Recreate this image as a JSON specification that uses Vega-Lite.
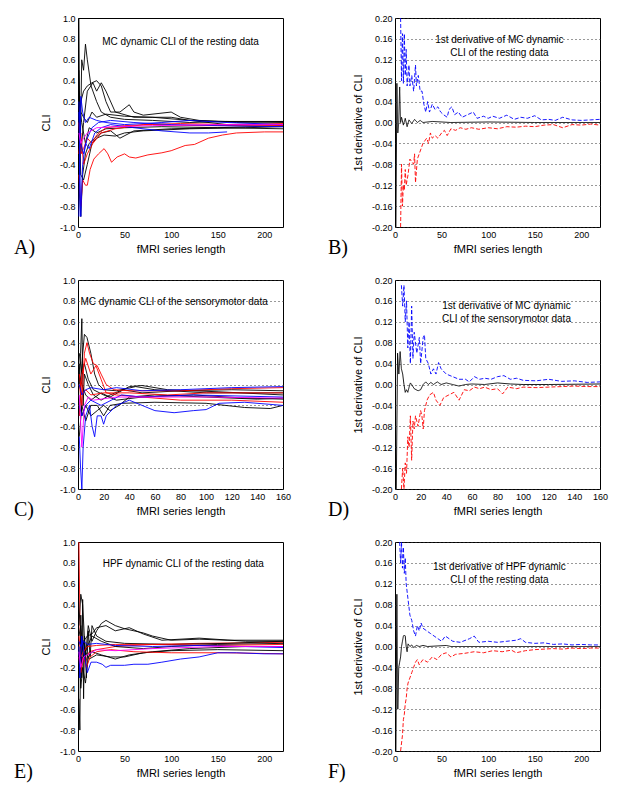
{
"$schema":"https://vega.github.io/schema/vega-lite/v6.json",
"background":"white",
"padding":{"left":13,"top":13,"right":5,"bottom":5},
"columns":2,
"spacing":{"row":53,"column":112},
"bounds":"flush",
"datasets":{
"a":[
{"s":1,"c":"k","x":1,"y":1},{"s":1,"c":"k","x":2,"y":-0.5},{"s":1,"c":"k","x":4,"y":0.6},{"s":1,"c":"k","x":6,"y":0.5},{"s":1,"c":"k","x":8,"y":0.75},{"s":1,"c":"k","x":10,"y":0.6},{"s":1,"c":"k","x":14,"y":0.35},{"s":1,"c":"k","x":20,"y":0.2},{"s":1,"c":"k","x":25,"y":0.1},{"s":1,"c":"k","x":35,"y":0.05},{"s":1,"c":"k","x":50,"y":0.03},{"s":1,"c":"k","x":80,"y":0.02},{"s":1,"c":"k","x":120,"y":0},{"s":1,"c":"k","x":160,"y":0.01},{"s":1,"c":"k","x":220,"y":0},
{"s":2,"c":"k","x":1,"y":-0.2},{"s":2,"c":"k","x":3,"y":0.2},{"s":2,"c":"k","x":6,"y":0.3},{"s":2,"c":"k","x":10,"y":0.35},{"s":2,"c":"k","x":15,"y":0.38},{"s":2,"c":"k","x":20,"y":0.4},{"s":2,"c":"k","x":25,"y":0.35},{"s":2,"c":"k","x":30,"y":0.2},{"s":2,"c":"k","x":35,"y":0.1},{"s":2,"c":"k","x":45,"y":0.1},{"s":2,"c":"k","x":55,"y":0.17},{"s":2,"c":"k","x":60,"y":0.1},{"s":2,"c":"k","x":70,"y":0.07},{"s":2,"c":"k","x":100,"y":0.1},{"s":2,"c":"k","x":110,"y":0.05},{"s":2,"c":"k","x":130,"y":0.02},{"s":2,"c":"k","x":170,"y":0},{"s":2,"c":"k","x":220,"y":0.01},
{"s":3,"c":"k","x":1,"y":0.5},{"s":3,"c":"k","x":3,"y":-0.3},{"s":3,"c":"k","x":6,"y":0},{"s":3,"c":"k","x":10,"y":0.3},{"s":3,"c":"k","x":16,"y":0.38},{"s":3,"c":"k","x":20,"y":0.3},{"s":3,"c":"k","x":25,"y":0.38},{"s":3,"c":"k","x":30,"y":0.3},{"s":3,"c":"k","x":40,"y":0.1},{"s":3,"c":"k","x":60,"y":0.05},{"s":3,"c":"k","x":100,"y":0.05},{"s":3,"c":"k","x":120,"y":0.02},{"s":3,"c":"k","x":160,"y":-0.02},{"s":3,"c":"k","x":220,"y":-0.02},
{"s":4,"c":"k","x":1,"y":-0.6},{"s":4,"c":"k","x":3,"y":-0.9},{"s":4,"c":"k","x":5,"y":-0.5},{"s":4,"c":"k","x":8,"y":-0.3},{"s":4,"c":"k","x":12,"y":-0.2},{"s":4,"c":"k","x":18,"y":-0.15},{"s":4,"c":"k","x":25,"y":-0.1},{"s":4,"c":"k","x":35,"y":-0.08},{"s":4,"c":"k","x":45,"y":-0.15},{"s":4,"c":"k","x":60,"y":-0.08},{"s":4,"c":"k","x":100,"y":-0.06},{"s":4,"c":"k","x":150,"y":-0.05},{"s":4,"c":"k","x":220,"y":-0.03},
{"s":5,"c":"k","x":1,"y":0},{"s":5,"c":"k","x":3,"y":-0.5},{"s":5,"c":"k","x":6,"y":-0.55},{"s":5,"c":"k","x":10,"y":-0.4},{"s":5,"c":"k","x":15,"y":-0.2},{"s":5,"c":"k","x":20,"y":-0.15},{"s":5,"c":"k","x":28,"y":-0.12},{"s":5,"c":"k","x":40,"y":-0.13},{"s":5,"c":"k","x":50,"y":-0.1},{"s":5,"c":"k","x":70,"y":-0.08},{"s":5,"c":"k","x":120,"y":-0.06},{"s":5,"c":"k","x":180,"y":-0.05},{"s":5,"c":"k","x":220,"y":-0.04},
{"s":6,"c":"k","x":1,"y":0.3},{"s":6,"c":"k","x":3,"y":0.1},{"s":6,"c":"k","x":6,"y":0.05},{"s":6,"c":"k","x":10,"y":0},{"s":6,"c":"k","x":15,"y":0.1},{"s":6,"c":"k","x":20,"y":0.05},{"s":6,"c":"k","x":30,"y":0.08},{"s":6,"c":"k","x":50,"y":0.06},{"s":6,"c":"k","x":80,"y":0.05},{"s":6,"c":"k","x":120,"y":0.02},{"s":6,"c":"k","x":160,"y":0.01},{"s":6,"c":"k","x":220,"y":0.01},
{"s":7,"c":"k","x":1,"y":0.2},{"s":7,"c":"k","x":4,"y":0},{"s":7,"c":"k","x":8,"y":-0.2},{"s":7,"c":"k","x":12,"y":-0.05},{"s":7,"c":"k","x":20,"y":-0.1},{"s":7,"c":"k","x":30,"y":-0.06},{"s":7,"c":"k","x":50,"y":-0.05},{"s":7,"c":"k","x":90,"y":-0.04},{"s":7,"c":"k","x":150,"y":-0.05},{"s":7,"c":"k","x":220,"y":-0.06},
{"s":8,"c":"r","x":1,"y":-0.5},{"s":8,"c":"r","x":3,"y":-0.8},{"s":8,"c":"r","x":5,"y":-0.55},{"s":8,"c":"r","x":8,"y":-0.6},{"s":8,"c":"r","x":10,"y":-0.6},{"s":8,"c":"r","x":13,"y":-0.45},{"s":8,"c":"r","x":17,"y":-0.35},{"s":8,"c":"r","x":22,"y":-0.3},{"s":8,"c":"r","x":28,"y":-0.25},{"s":8,"c":"r","x":32,"y":-0.3},{"s":8,"c":"r","x":36,"y":-0.38},{"s":8,"c":"r","x":42,"y":-0.33},{"s":8,"c":"r","x":50,"y":-0.3},{"s":8,"c":"r","x":55,"y":-0.33},{"s":8,"c":"r","x":62,"y":-0.34},{"s":8,"c":"r","x":75,"y":-0.31},{"s":8,"c":"r","x":90,"y":-0.29},{"s":8,"c":"r","x":100,"y":-0.27},{"s":8,"c":"r","x":115,"y":-0.22},{"s":8,"c":"r","x":125,"y":-0.21},{"s":8,"c":"r","x":140,"y":-0.15},{"s":8,"c":"r","x":155,"y":-0.12},{"s":8,"c":"r","x":170,"y":-0.1},{"s":8,"c":"r","x":200,"y":-0.09},{"s":8,"c":"r","x":220,"y":-0.09},
{"s":9,"c":"r","x":1,"y":0},{"s":9,"c":"r","x":3,"y":-0.3},{"s":9,"c":"r","x":6,"y":-0.25},{"s":9,"c":"r","x":10,"y":-0.15},{"s":9,"c":"r","x":15,"y":-0.2},{"s":9,"c":"r","x":20,"y":-0.12},{"s":9,"c":"r","x":30,"y":-0.05},{"s":9,"c":"r","x":50,"y":-0.03},{"s":9,"c":"r","x":80,"y":-0.02},{"s":9,"c":"r","x":130,"y":-0.03},{"s":9,"c":"r","x":220,"y":-0.03},
{"s":10,"c":"r","x":1,"y":-0.3},{"s":10,"c":"r","x":3,"y":-0.1},{"s":10,"c":"r","x":6,"y":-0.4},{"s":10,"c":"r","x":10,"y":-0.3},{"s":10,"c":"r","x":16,"y":-0.2},{"s":10,"c":"r","x":25,"y":-0.1},{"s":10,"c":"r","x":40,"y":-0.06},{"s":10,"c":"r","x":70,"y":-0.02},{"s":10,"c":"r","x":110,"y":-0.01},{"s":10,"c":"r","x":160,"y":-0.02},{"s":10,"c":"r","x":220,"y":-0.01},
{"s":11,"c":"b","x":1,"y":-0.9},{"s":11,"c":"b","x":3,"y":0.25},{"s":11,"c":"b","x":5,"y":0.1},{"s":11,"c":"b","x":8,"y":0},{"s":11,"c":"b","x":12,"y":0.05},{"s":11,"c":"b","x":20,"y":0.02},{"s":11,"c":"b","x":30,"y":0},{"s":11,"c":"b","x":50,"y":-0.02},{"s":11,"c":"b","x":90,"y":0},{"s":11,"c":"b","x":120,"y":0.02},{"s":11,"c":"b","x":160,"y":0},{"s":11,"c":"b","x":220,"y":-0.02},
{"s":12,"c":"b","x":1,"y":0.1},{"s":12,"c":"b","x":3,"y":-0.9},{"s":12,"c":"b","x":5,"y":-0.4},{"s":12,"c":"b","x":8,"y":-0.2},{"s":12,"c":"b","x":12,"y":-0.25},{"s":12,"c":"b","x":18,"y":-0.1},{"s":12,"c":"b","x":25,"y":-0.05},{"s":12,"c":"b","x":35,"y":-0.02},{"s":12,"c":"b","x":60,"y":-0.05},{"s":12,"c":"b","x":90,"y":-0.08},{"s":12,"c":"b","x":120,"y":-0.1},{"s":12,"c":"b","x":140,"y":-0.1},{"s":12,"c":"b","x":160,"y":-0.09},
{"s":13,"c":"b","x":1,"y":0.2},{"s":13,"c":"b","x":3,"y":-0.2},{"s":13,"c":"b","x":6,"y":-0.3},{"s":13,"c":"b","x":10,"y":-0.15},{"s":13,"c":"b","x":15,"y":-0.05},{"s":13,"c":"b","x":22,"y":0},{"s":13,"c":"b","x":35,"y":0.02},{"s":13,"c":"b","x":60,"y":0},{"s":13,"c":"b","x":100,"y":-0.02},{"s":13,"c":"b","x":150,"y":-0.03},{"s":13,"c":"b","x":220,"y":-0.04},
{"s":14,"c":"m","x":1,"y":-0.1},{"s":14,"c":"m","x":3,"y":-0.2},{"s":14,"c":"m","x":6,"y":-0.15},{"s":14,"c":"m","x":10,"y":-0.1},{"s":14,"c":"m","x":20,"y":-0.05},{"s":14,"c":"m","x":40,"y":-0.04},{"s":14,"c":"m","x":80,"y":-0.03},{"s":14,"c":"m","x":150,"y":-0.02},{"s":14,"c":"m","x":220,"y":-0.02}
],
"b":[
{"c":"k","x":1,"y":-0.2},{"c":"k","x":2,"y":0.075},{"c":"k","x":3,"y":-0.02},{"c":"k","x":4,"y":0},{"c":"k","x":5,"y":0.068},{"c":"k","x":6,"y":0},{"c":"k","x":7,"y":0.01},{"c":"k","x":9,"y":-0.005},{"c":"k","x":11,"y":0.008},{"c":"k","x":13,"y":-0.008},{"c":"k","x":15,"y":0.005},{"c":"k","x":18,"y":-0.002},{"c":"k","x":21,"y":0.006},{"c":"k","x":24,"y":0},{"c":"k","x":27,"y":0.004},{"c":"k","x":30,"y":0},{"c":"k","x":40,"y":0.002},{"c":"k","x":60,"y":0},{"c":"k","x":100,"y":0.001},{"c":"k","x":150,"y":0},{"c":"k","x":220,"y":0},
{"c":"b","x":6,"y":0.2},{"c":"b","x":7,"y":0.08},{"c":"b","x":8,"y":0.17},{"c":"b","x":9,"y":0.075},{"c":"b","x":10,"y":0.17},{"c":"b","x":11,"y":0.09},{"c":"b","x":12,"y":0.14},{"c":"b","x":13,"y":0.07},{"c":"b","x":15,"y":0.11},{"c":"b","x":16,"y":0.07},{"c":"b","x":18,"y":0.09},{"c":"b","x":20,"y":0.06},{"c":"b","x":22,"y":0.11},{"c":"b","x":23,"y":0.07},{"c":"b","x":25,"y":0.09},{"c":"b","x":27,"y":0.06},{"c":"b","x":29,"y":0.06},{"c":"b","x":31,"y":0.035},{"c":"b","x":33,"y":0.02},{"c":"b","x":35,"y":0.04},{"c":"b","x":37,"y":0.02},{"c":"b","x":40,"y":0.035},{"c":"b","x":43,"y":0.025},{"c":"b","x":46,"y":0.03},{"c":"b","x":49,"y":0.02},{"c":"b","x":52,"y":0.015},{"c":"b","x":56,"y":0.01},{"c":"b","x":58,"y":0.025},{"c":"b","x":61,"y":0.03},{"c":"b","x":64,"y":0.015},{"c":"b","x":68,"y":0.02},{"c":"b","x":72,"y":0.01},{"c":"b","x":78,"y":0.015},{"c":"b","x":84,"y":0.02},{"c":"b","x":88,"y":0.008},{"c":"b","x":95,"y":0.012},{"c":"b","x":100,"y":0.008},{"c":"b","x":105,"y":0.012},{"c":"b","x":112,"y":0.008},{"c":"b","x":120,"y":0.014},{"c":"b","x":128,"y":0.006},{"c":"b","x":135,"y":0.01},{"c":"b","x":142,"y":0.008},{"c":"b","x":150,"y":0.013},{"c":"b","x":157,"y":0.005},{"c":"b","x":165,"y":0.006},{"c":"b","x":172,"y":0.004},{"c":"b","x":180,"y":0.01},{"c":"b","x":190,"y":0.005},{"c":"b","x":200,"y":0.004},{"c":"b","x":210,"y":0.005},{"c":"b","x":220,"y":0.006},
{"c":"r","x":6,"y":-0.2},{"c":"r","x":7,"y":-0.08},{"c":"r","x":8,"y":-0.16},{"c":"r","x":9,"y":-0.12},{"c":"r","x":10,"y":-0.13},{"c":"r","x":11,"y":-0.09},{"c":"r","x":12,"y":-0.12},{"c":"r","x":14,"y":-0.1},{"c":"r","x":16,"y":-0.07},{"c":"r","x":18,"y":-0.075},{"c":"r","x":20,"y":-0.08},{"c":"r","x":21,"y":-0.06},{"c":"r","x":22,"y":-0.115},{"c":"r","x":24,"y":-0.07},{"c":"r","x":26,"y":-0.06},{"c":"r","x":28,"y":-0.05},{"c":"r","x":30,"y":-0.04},{"c":"r","x":32,"y":-0.035},{"c":"r","x":34,"y":-0.03},{"c":"r","x":36,"y":-0.04},{"c":"r","x":38,"y":-0.02},{"c":"r","x":40,"y":-0.03},{"c":"r","x":43,"y":-0.025},{"c":"r","x":46,"y":-0.03},{"c":"r","x":50,"y":-0.02},{"c":"r","x":53,"y":-0.015},{"c":"r","x":56,"y":-0.025},{"c":"r","x":60,"y":-0.012},{"c":"r","x":65,"y":-0.015},{"c":"r","x":70,"y":-0.01},{"c":"r","x":76,"y":-0.013},{"c":"r","x":82,"y":-0.01},{"c":"r","x":90,"y":-0.013},{"c":"r","x":100,"y":-0.01},{"c":"r","x":110,"y":-0.012},{"c":"r","x":120,"y":-0.008},{"c":"r","x":130,"y":-0.009},{"c":"r","x":140,"y":-0.007},{"c":"r","x":150,"y":-0.008},{"c":"r","x":160,"y":-0.005},{"c":"r","x":170,"y":-0.004},{"c":"r","x":180,"y":-0.01},{"c":"r","x":190,"y":-0.004},{"c":"r","x":200,"y":-0.005},{"c":"r","x":210,"y":-0.003},{"c":"r","x":220,"y":-0.005}
],
"c":[
{"s":1,"c":"k","x":1,"y":0},{"s":1,"c":"k","x":2,"y":0.3},{"s":1,"c":"k","x":3,"y":0.63},{"s":1,"c":"k","x":4,"y":-0.2},{"s":1,"c":"k","x":5,"y":0.1},{"s":1,"c":"k","x":8,"y":0},{"s":1,"c":"k","x":12,"y":-0.1},{"s":1,"c":"k","x":18,"y":-0.15},{"s":1,"c":"k","x":25,"y":-0.1},{"s":1,"c":"k","x":35,"y":-0.05},{"s":1,"c":"k","x":50,"y":-0.08},{"s":1,"c":"k","x":80,"y":-0.06},{"s":1,"c":"k","x":120,"y":-0.05},{"s":1,"c":"k","x":160,"y":-0.06},
{"s":2,"c":"k","x":1,"y":-0.3},{"s":2,"c":"k","x":3,"y":0.2},{"s":2,"c":"k","x":5,"y":0.48},{"s":2,"c":"k","x":7,"y":0.45},{"s":2,"c":"k","x":10,"y":0.3},{"s":2,"c":"k","x":13,"y":0.1},{"s":2,"c":"k","x":16,"y":0},{"s":2,"c":"k","x":20,"y":-0.05},{"s":2,"c":"k","x":30,"y":-0.06},{"s":2,"c":"k","x":45,"y":-0.02},{"s":2,"c":"k","x":60,"y":-0.05},{"s":2,"c":"k","x":100,"y":-0.08},{"s":2,"c":"k","x":160,"y":-0.08},
{"s":3,"c":"k","x":1,"y":0.2},{"s":3,"c":"k","x":3,"y":-0.3},{"s":3,"c":"k","x":6,"y":-0.2},{"s":3,"c":"k","x":10,"y":-0.3},{"s":3,"c":"k","x":15,"y":-0.25},{"s":3,"c":"k","x":20,"y":-0.2},{"s":3,"c":"k","x":25,"y":-0.25},{"s":3,"c":"k","x":32,"y":-0.2},{"s":3,"c":"k","x":40,"y":-0.12},{"s":3,"c":"k","x":60,"y":-0.1},{"s":3,"c":"k","x":100,"y":-0.12},{"s":3,"c":"k","x":140,"y":-0.14},{"s":3,"c":"k","x":160,"y":-0.13},
{"s":4,"c":"k","x":1,"y":-0.5},{"s":4,"c":"k","x":3,"y":-0.2},{"s":4,"c":"k","x":6,"y":-0.35},{"s":4,"c":"k","x":10,"y":-0.2},{"s":4,"c":"k","x":15,"y":-0.2},{"s":4,"c":"k","x":20,"y":-0.3},{"s":4,"c":"k","x":25,"y":-0.2},{"s":4,"c":"k","x":35,"y":-0.18},{"s":4,"c":"k","x":60,"y":-0.17},{"s":4,"c":"k","x":100,"y":-0.18},{"s":4,"c":"k","x":130,"y":-0.22},{"s":4,"c":"k","x":150,"y":-0.23},{"s":4,"c":"k","x":160,"y":-0.2},
{"s":5,"c":"k","x":1,"y":0.1},{"s":5,"c":"k","x":3,"y":0},{"s":5,"c":"k","x":6,"y":-0.1},{"s":5,"c":"k","x":10,"y":-0.15},{"s":5,"c":"k","x":18,"y":-0.08},{"s":5,"c":"k","x":25,"y":-0.12},{"s":5,"c":"k","x":40,"y":-0.02},{"s":5,"c":"k","x":50,"y":-0.01},{"s":5,"c":"k","x":70,"y":-0.05},{"s":5,"c":"k","x":110,"y":-0.07},{"s":5,"c":"k","x":160,"y":-0.1},
{"s":6,"c":"k","x":1,"y":0.3},{"s":6,"c":"k","x":3,"y":0.1},{"s":6,"c":"k","x":5,"y":0.2},{"s":6,"c":"k","x":8,"y":0.05},{"s":6,"c":"k","x":12,"y":-0.05},{"s":6,"c":"k","x":20,"y":-0.1},{"s":6,"c":"k","x":30,"y":-0.15},{"s":6,"c":"k","x":50,"y":-0.12},{"s":6,"c":"k","x":90,"y":-0.1},{"s":6,"c":"k","x":130,"y":-0.13},{"s":6,"c":"k","x":160,"y":-0.14},
{"s":7,"c":"r","x":1,"y":0},{"s":7,"c":"r","x":3,"y":-0.2},{"s":7,"c":"r","x":5,"y":0.3},{"s":7,"c":"r","x":7,"y":0.4},{"s":7,"c":"r","x":9,"y":0.3},{"s":7,"c":"r","x":12,"y":0.2},{"s":7,"c":"r","x":15,"y":0.18},{"s":7,"c":"r","x":18,"y":0.1},{"s":7,"c":"r","x":22,"y":0},{"s":7,"c":"r","x":28,"y":-0.05},{"s":7,"c":"r","x":40,"y":-0.06},{"s":7,"c":"r","x":80,"y":-0.06},{"s":7,"c":"r","x":120,"y":-0.04},{"s":7,"c":"r","x":160,"y":-0.03},
{"s":8,"c":"r","x":1,"y":-0.3},{"s":8,"c":"r","x":3,"y":0.1},{"s":8,"c":"r","x":6,"y":0.25},{"s":8,"c":"r","x":10,"y":0.1},{"s":8,"c":"r","x":14,"y":0.18},{"s":8,"c":"r","x":18,"y":0.05},{"s":8,"c":"r","x":22,"y":-0.08},{"s":8,"c":"r","x":30,"y":-0.1},{"s":8,"c":"r","x":50,"y":-0.12},{"s":8,"c":"r","x":80,"y":-0.15},{"s":8,"c":"r","x":120,"y":-0.15},{"s":8,"c":"r","x":160,"y":-0.17},
{"s":9,"c":"r","x":1,"y":0.1},{"s":9,"c":"r","x":3,"y":-0.1},{"s":9,"c":"r","x":6,"y":-0.05},{"s":9,"c":"r","x":10,"y":-0.1},{"s":9,"c":"r","x":20,"y":-0.08},{"s":9,"c":"r","x":40,"y":-0.08},{"s":9,"c":"r","x":70,"y":-0.1},{"s":9,"c":"r","x":100,"y":-0.08},{"s":9,"c":"r","x":160,"y":-0.08},
{"s":10,"c":"b","x":1,"y":-0.5},{"s":10,"c":"b","x":2,"y":-0.8},{"s":10,"c":"b","x":3,"y":-1},{"s":10,"c":"b","x":4,"y":-0.6},{"s":10,"c":"b","x":6,"y":-0.3},{"s":10,"c":"b","x":9,"y":-0.2},{"s":10,"c":"b","x":11,"y":-0.4},{"s":10,"c":"b","x":13,"y":-0.5},{"s":10,"c":"b","x":15,"y":-0.3},{"s":10,"c":"b","x":18,"y":-0.3},{"s":10,"c":"b","x":20,"y":-0.38},{"s":10,"c":"b","x":22,"y":-0.3},{"s":10,"c":"b","x":30,"y":-0.2},{"s":10,"c":"b","x":40,"y":-0.15},{"s":10,"c":"b","x":50,"y":-0.2},{"s":10,"c":"b","x":60,"y":-0.25},{"s":10,"c":"b","x":75,"y":-0.27},{"s":10,"c":"b","x":90,"y":-0.25},{"s":10,"c":"b","x":100,"y":-0.24},{"s":10,"c":"b","x":110,"y":-0.18},{"s":10,"c":"b","x":130,"y":-0.17},{"s":10,"c":"b","x":160,"y":-0.2},
{"s":11,"c":"b","x":1,"y":0},{"s":11,"c":"b","x":3,"y":-0.1},{"s":11,"c":"b","x":6,"y":-0.05},{"s":11,"c":"b","x":10,"y":-0.03},{"s":11,"c":"b","x":20,"y":-0.05},{"s":11,"c":"b","x":30,"y":-0.03},{"s":11,"c":"b","x":50,"y":-0.06},{"s":11,"c":"b","x":80,"y":-0.05},{"s":11,"c":"b","x":120,"y":-0.03},{"s":11,"c":"b","x":160,"y":-0.02},
{"s":12,"c":"b","x":1,"y":-0.2},{"s":12,"c":"b","x":3,"y":-0.3},{"s":12,"c":"b","x":6,"y":-0.2},{"s":12,"c":"b","x":10,"y":-0.15},{"s":12,"c":"b","x":18,"y":-0.2},{"s":12,"c":"b","x":26,"y":-0.15},{"s":12,"c":"b","x":34,"y":-0.1},{"s":12,"c":"b","x":50,"y":-0.12},{"s":12,"c":"b","x":90,"y":-0.1},{"s":12,"c":"b","x":160,"y":-0.12},
{"s":13,"c":"m","x":1,"y":-0.1},{"s":13,"c":"m","x":3,"y":-0.6},{"s":13,"c":"m","x":5,"y":-0.2},{"s":13,"c":"m","x":8,"y":-0.12},{"s":13,"c":"m","x":12,"y":-0.15},{"s":13,"c":"m","x":18,"y":-0.14},{"s":13,"c":"m","x":30,"y":-0.12},{"s":13,"c":"m","x":60,"y":-0.12},{"s":13,"c":"m","x":100,"y":-0.12},{"s":13,"c":"m","x":160,"y":-0.13}
],
"d":[
{"c":"k","x":1,"y":-0.2},{"c":"k","x":2,"y":0.06},{"c":"k","x":3,"y":0.02},{"c":"k","x":4,"y":0.063},{"c":"k","x":5,"y":0.03},{"c":"k","x":6,"y":0.02},{"c":"k","x":7,"y":0},{"c":"k","x":8,"y":-0.015},{"c":"k","x":9,"y":-0.01},{"c":"k","x":10,"y":-0.015},{"c":"k","x":11,"y":-0.005},{"c":"k","x":12,"y":0.003},{"c":"k","x":13,"y":0},{"c":"k","x":15,"y":-0.008},{"c":"k","x":18,"y":-0.012},{"c":"k","x":20,"y":-0.01},{"c":"k","x":22,"y":0},{"c":"k","x":24,"y":0.005},{"c":"k","x":26,"y":0},{"c":"k","x":28,"y":0.004},{"c":"k","x":30,"y":0},{"c":"k","x":33,"y":0.005},{"c":"k","x":36,"y":0},{"c":"k","x":40,"y":0.003},{"c":"k","x":45,"y":0},{"c":"k","x":50,"y":-0.003},{"c":"k","x":55,"y":0},{"c":"k","x":60,"y":0.001},{"c":"k","x":70,"y":0},{"c":"k","x":80,"y":0.003},{"c":"k","x":90,"y":0.001},{"c":"k","x":100,"y":0},{"c":"k","x":120,"y":0},{"c":"k","x":160,"y":0.001},
{"c":"b","x":5,"y":0.19},{"c":"b","x":6,"y":0.15},{"c":"b","x":7,"y":0.19},{"c":"b","x":8,"y":0.12},{"c":"b","x":9,"y":0.16},{"c":"b","x":10,"y":0.07},{"c":"b","x":11,"y":0.12},{"c":"b","x":12,"y":0.04},{"c":"b","x":13,"y":0.15},{"c":"b","x":14,"y":0.05},{"c":"b","x":15,"y":0.1},{"c":"b","x":17,"y":0.06},{"c":"b","x":19,"y":0.09},{"c":"b","x":20,"y":0.04},{"c":"b","x":22,"y":0.09},{"c":"b","x":23,"y":0.095},{"c":"b","x":24,"y":0.05},{"c":"b","x":26,"y":0.04},{"c":"b","x":28,"y":0.02},{"c":"b","x":30,"y":0.03},{"c":"b","x":32,"y":0.02},{"c":"b","x":34,"y":0.042},{"c":"b","x":36,"y":0.03},{"c":"b","x":40,"y":0.02},{"c":"b","x":45,"y":0.015},{"c":"b","x":50,"y":0.01},{"c":"b","x":55,"y":0.01},{"c":"b","x":58,"y":0.005},{"c":"b","x":62,"y":0.015},{"c":"b","x":66,"y":0.01},{"c":"b","x":70,"y":0.012},{"c":"b","x":75,"y":0.01},{"c":"b","x":80,"y":0.015},{"c":"b","x":85,"y":0.017},{"c":"b","x":90,"y":0.01},{"c":"b","x":95,"y":0.012},{"c":"b","x":100,"y":0.008},{"c":"b","x":110,"y":0.007},{"c":"b","x":120,"y":0.01},{"c":"b","x":130,"y":0.006},{"c":"b","x":140,"y":0.007},{"c":"b","x":150,"y":0.004},{"c":"b","x":160,"y":0.005},
{"c":"r","x":5,"y":-0.2},{"c":"r","x":6,"y":-0.16},{"c":"r","x":7,"y":-0.2},{"c":"r","x":8,"y":-0.15},{"c":"r","x":9,"y":-0.17},{"c":"r","x":10,"y":-0.1},{"c":"r","x":11,"y":-0.12},{"c":"r","x":12,"y":-0.06},{"c":"r","x":13,"y":-0.145},{"c":"r","x":14,"y":-0.07},{"c":"r","x":15,"y":-0.085},{"c":"r","x":16,"y":-0.06},{"c":"r","x":18,"y":-0.08},{"c":"r","x":20,"y":-0.05},{"c":"r","x":21,"y":-0.06},{"c":"r","x":22,"y":-0.085},{"c":"r","x":23,"y":-0.05},{"c":"r","x":25,"y":-0.03},{"c":"r","x":27,"y":-0.02},{"c":"r","x":30,"y":-0.015},{"c":"r","x":32,"y":-0.03},{"c":"r","x":35,"y":-0.04},{"c":"r","x":38,"y":-0.025},{"c":"r","x":42,"y":-0.02},{"c":"r","x":46,"y":-0.015},{"c":"r","x":50,"y":-0.03},{"c":"r","x":54,"y":-0.01},{"c":"r","x":58,"y":-0.012},{"c":"r","x":62,"y":-0.005},{"c":"r","x":66,"y":-0.008},{"c":"r","x":70,"y":-0.005},{"c":"r","x":75,"y":-0.01},{"c":"r","x":80,"y":-0.008},{"c":"r","x":84,"y":-0.018},{"c":"r","x":88,"y":-0.005},{"c":"r","x":95,"y":-0.008},{"c":"r","x":100,"y":-0.005},{"c":"r","x":110,"y":-0.006},{"c":"r","x":120,"y":-0.005},{"c":"r","x":130,"y":-0.004},{"c":"r","x":140,"y":-0.003},{"c":"r","x":150,"y":-0.004},{"c":"r","x":160,"y":-0.004}
],
"e":[
{"s":1,"c":"r","x":1,"y":1},{"s":1,"c":"r","x":2,"y":0.3},{"s":1,"c":"r","x":3,"y":-0.2},{"s":1,"c":"r","x":5,"y":-0.1},{"s":1,"c":"r","x":8,"y":-0.15},{"s":1,"c":"r","x":12,"y":-0.05},{"s":1,"c":"r","x":20,"y":-0.03},{"s":1,"c":"r","x":40,"y":0},{"s":1,"c":"r","x":80,"y":0.02},{"s":1,"c":"r","x":130,"y":0.03},{"s":1,"c":"r","x":220,"y":0.04},
{"s":2,"c":"k","x":1,"y":-0.5},{"s":2,"c":"k","x":2,"y":-0.8},{"s":2,"c":"k","x":3,"y":0.3},{"s":2,"c":"k","x":4,"y":-0.3},{"s":2,"c":"k","x":5,"y":0.45},{"s":2,"c":"k","x":6,"y":-0.5},{"s":2,"c":"k","x":7,"y":0.1},{"s":2,"c":"k","x":9,"y":-0.3},{"s":2,"c":"k","x":11,"y":0.15},{"s":2,"c":"k","x":13,"y":-0.1},{"s":2,"c":"k","x":15,"y":0.2},{"s":2,"c":"k","x":20,"y":0.1},{"s":2,"c":"k","x":30,"y":0.05},{"s":2,"c":"k","x":50,"y":0.03},{"s":2,"c":"k","x":100,"y":0.02},{"s":2,"c":"k","x":160,"y":0.03},{"s":2,"c":"k","x":220,"y":0.05},
{"s":3,"c":"k","x":1,"y":0.2},{"s":3,"c":"k","x":3,"y":0.5},{"s":3,"c":"k","x":5,"y":0.4},{"s":3,"c":"k","x":8,"y":-0.1},{"s":3,"c":"k","x":11,"y":0.2},{"s":3,"c":"k","x":15,"y":0.05},{"s":3,"c":"k","x":20,"y":0.15},{"s":3,"c":"k","x":25,"y":0.22},{"s":3,"c":"k","x":30,"y":0.25},{"s":3,"c":"k","x":40,"y":0.2},{"s":3,"c":"k","x":50,"y":0.17},{"s":3,"c":"k","x":60,"y":0.15},{"s":3,"c":"k","x":70,"y":0.13},{"s":3,"c":"k","x":80,"y":0.1},{"s":3,"c":"k","x":100,"y":0.06},{"s":3,"c":"k","x":130,"y":0.07},{"s":3,"c":"k","x":160,"y":0.06},{"s":3,"c":"k","x":220,"y":0.06},
{"s":4,"c":"k","x":1,"y":-0.3},{"s":4,"c":"k","x":3,"y":-0.1},{"s":4,"c":"k","x":6,"y":0.05},{"s":4,"c":"k","x":10,"y":0.1},{"s":4,"c":"k","x":15,"y":0.12},{"s":4,"c":"k","x":20,"y":0.18},{"s":4,"c":"k","x":30,"y":0.2},{"s":4,"c":"k","x":40,"y":0.15},{"s":4,"c":"k","x":55,"y":0.18},{"s":4,"c":"k","x":70,"y":0.12},{"s":4,"c":"k","x":90,"y":0.06},{"s":4,"c":"k","x":130,"y":0.08},{"s":4,"c":"k","x":180,"y":0.05},{"s":4,"c":"k","x":220,"y":0.05},
{"s":5,"c":"k","x":1,"y":0},{"s":5,"c":"k","x":3,"y":-0.4},{"s":5,"c":"k","x":5,"y":-0.2},{"s":5,"c":"k","x":8,"y":-0.35},{"s":5,"c":"k","x":11,"y":-0.1},{"s":5,"c":"k","x":15,"y":-0.05},{"s":5,"c":"k","x":25,"y":-0.08},{"s":5,"c":"k","x":40,"y":-0.12},{"s":5,"c":"k","x":55,"y":-0.08},{"s":5,"c":"k","x":80,"y":-0.05},{"s":5,"c":"k","x":120,"y":-0.02},{"s":5,"c":"k","x":180,"y":0},{"s":5,"c":"k","x":220,"y":0},
{"s":6,"c":"k","x":1,"y":0.1},{"s":6,"c":"k","x":3,"y":0.2},{"s":6,"c":"k","x":6,"y":-0.1},{"s":6,"c":"k","x":10,"y":0},{"s":6,"c":"k","x":15,"y":0.1},{"s":6,"c":"k","x":25,"y":0.05},{"s":6,"c":"k","x":40,"y":0},{"s":6,"c":"k","x":70,"y":-0.02},{"s":6,"c":"k","x":100,"y":0},{"s":6,"c":"k","x":150,"y":0.02},{"s":6,"c":"k","x":220,"y":0.03},
{"s":7,"c":"k","x":1,"y":-0.2},{"s":7,"c":"k","x":4,"y":0.1},{"s":7,"c":"k","x":8,"y":-0.05},{"s":7,"c":"k","x":12,"y":-0.12},{"s":7,"c":"k","x":20,"y":-0.08},{"s":7,"c":"k","x":35,"y":-0.1},{"s":7,"c":"k","x":50,"y":-0.1},{"s":7,"c":"k","x":70,"y":-0.06},{"s":7,"c":"k","x":100,"y":-0.04},{"s":7,"c":"k","x":150,"y":-0.03},{"s":7,"c":"k","x":220,"y":-0.04},
{"s":8,"c":"r","x":1,"y":-0.1},{"s":8,"c":"r","x":3,"y":-0.25},{"s":8,"c":"r","x":6,"y":-0.1},{"s":8,"c":"r","x":9,"y":-0.2},{"s":8,"c":"r","x":13,"y":-0.1},{"s":8,"c":"r","x":20,"y":-0.05},{"s":8,"c":"r","x":35,"y":-0.03},{"s":8,"c":"r","x":60,"y":-0.05},{"s":8,"c":"r","x":100,"y":-0.06},{"s":8,"c":"r","x":160,"y":-0.06},{"s":8,"c":"r","x":220,"y":-0.07},
{"s":9,"c":"r","x":1,"y":0.1},{"s":9,"c":"r","x":3,"y":-0.1},{"s":9,"c":"r","x":6,"y":-0.05},{"s":9,"c":"r","x":10,"y":0},{"s":9,"c":"r","x":20,"y":0.01},{"s":9,"c":"r","x":40,"y":0.02},{"s":9,"c":"r","x":80,"y":0.02},{"s":9,"c":"r","x":150,"y":0.01},{"s":9,"c":"r","x":220,"y":0.02},
{"s":10,"c":"b","x":1,"y":0},{"s":10,"c":"b","x":2,"y":-0.3},{"s":10,"c":"b","x":4,"y":0.1},{"s":10,"c":"b","x":7,"y":-0.1},{"s":10,"c":"b","x":10,"y":-0.25},{"s":10,"c":"b","x":14,"y":-0.15},{"s":10,"c":"b","x":20,"y":-0.15},{"s":10,"c":"b","x":26,"y":-0.17},{"s":10,"c":"b","x":30,"y":-0.2},{"s":10,"c":"b","x":35,"y":-0.18},{"s":10,"c":"b","x":50,"y":-0.18},{"s":10,"c":"b","x":60,"y":-0.17},{"s":10,"c":"b","x":75,"y":-0.17},{"s":10,"c":"b","x":90,"y":-0.15},{"s":10,"c":"b","x":110,"y":-0.12},{"s":10,"c":"b","x":130,"y":-0.1},{"s":10,"c":"b","x":150,"y":-0.06},{"s":10,"c":"b","x":170,"y":-0.06},{"s":10,"c":"b","x":200,"y":-0.07},{"s":10,"c":"b","x":220,"y":-0.07},
{"s":11,"c":"b","x":1,"y":0.05},{"s":11,"c":"b","x":3,"y":0},{"s":11,"c":"b","x":6,"y":0.05},{"s":11,"c":"b","x":10,"y":0.02},{"s":11,"c":"b","x":20,"y":0.03},{"s":11,"c":"b","x":40,"y":0.01},{"s":11,"c":"b","x":80,"y":0},{"s":11,"c":"b","x":130,"y":0.01},{"s":11,"c":"b","x":220,"y":-0.01},
{"s":12,"c":"m","x":1,"y":-0.05},{"s":12,"c":"m","x":3,"y":-0.2},{"s":12,"c":"m","x":6,"y":-0.1},{"s":12,"c":"m","x":10,"y":-0.08},{"s":12,"c":"m","x":20,"y":-0.03},{"s":12,"c":"m","x":40,"y":-0.04},{"s":12,"c":"m","x":80,"y":-0.02},{"s":12,"c":"m","x":150,"y":0},{"s":12,"c":"m","x":220,"y":0}
],
"f":[
{"c":"k","x":1,"y":-0.2},{"c":"k","x":2,"y":0.1},{"c":"k","x":3,"y":-0.12},{"c":"k","x":4,"y":-0.04},{"c":"k","x":5,"y":-0.03},{"c":"k","x":6,"y":-0.02},{"c":"k","x":7,"y":0},{"c":"k","x":8,"y":0.01},{"c":"k","x":9,"y":0.02},{"c":"k","x":10,"y":0.022},{"c":"k","x":11,"y":0.02},{"c":"k","x":12,"y":0},{"c":"k","x":13,"y":-0.01},{"c":"k","x":14,"y":0.005},{"c":"k","x":16,"y":0},{"c":"k","x":18,"y":0.003},{"c":"k","x":20,"y":-0.002},{"c":"k","x":23,"y":0.002},{"c":"k","x":26,"y":0},{"c":"k","x":30,"y":0.002},{"c":"k","x":35,"y":0},{"c":"k","x":45,"y":0.001},{"c":"k","x":55,"y":0.002},{"c":"k","x":60,"y":0},{"c":"k","x":100,"y":0},{"c":"k","x":220,"y":0},
{"c":"b","x":5,"y":0.2},{"c":"b","x":6,"y":0.16},{"c":"b","x":7,"y":0.2},{"c":"b","x":8,"y":0.15},{"c":"b","x":9,"y":0.19},{"c":"b","x":10,"y":0.14},{"c":"b","x":11,"y":0.17},{"c":"b","x":12,"y":0.12},{"c":"b","x":14,"y":0.09},{"c":"b","x":16,"y":0.06},{"c":"b","x":18,"y":0.05},{"c":"b","x":20,"y":0.03},{"c":"b","x":22,"y":0.02},{"c":"b","x":24,"y":0.04},{"c":"b","x":26,"y":0.03},{"c":"b","x":28,"y":0.045},{"c":"b","x":30,"y":0.035},{"c":"b","x":34,"y":0.03},{"c":"b","x":38,"y":0.025},{"c":"b","x":42,"y":0.02},{"c":"b","x":46,"y":0.015},{"c":"b","x":50,"y":0.01},{"c":"b","x":54,"y":0.02},{"c":"b","x":58,"y":0.015},{"c":"b","x":62,"y":0.01},{"c":"b","x":70,"y":0.008},{"c":"b","x":80,"y":0.015},{"c":"b","x":85,"y":0.02},{"c":"b","x":90,"y":0.008},{"c":"b","x":100,"y":0.01},{"c":"b","x":110,"y":0.008},{"c":"b","x":120,"y":0.01},{"c":"b","x":130,"y":0.012},{"c":"b","x":135,"y":0.015},{"c":"b","x":140,"y":0.008},{"c":"b","x":150,"y":0.006},{"c":"b","x":160,"y":0.007},{"c":"b","x":170,"y":0.004},{"c":"b","x":180,"y":0.005},{"c":"b","x":190,"y":0.003},{"c":"b","x":200,"y":0.004},{"c":"b","x":210,"y":0.003},{"c":"b","x":220,"y":0.003},
{"c":"r","x":6,"y":-0.2},{"c":"r","x":8,"y":-0.17},{"c":"r","x":9,"y":-0.14},{"c":"r","x":10,"y":-0.13},{"c":"r","x":11,"y":-0.11},{"c":"r","x":12,"y":-0.1},{"c":"r","x":13,"y":-0.08},{"c":"r","x":14,"y":-0.07},{"c":"r","x":16,"y":-0.06},{"c":"r","x":18,"y":-0.05},{"c":"r","x":20,"y":-0.04},{"c":"r","x":22,"y":-0.03},{"c":"r","x":24,"y":-0.025},{"c":"r","x":26,"y":-0.035},{"c":"r","x":28,"y":-0.03},{"c":"r","x":30,"y":-0.025},{"c":"r","x":35,"y":-0.03},{"c":"r","x":40,"y":-0.02},{"c":"r","x":45,"y":-0.025},{"c":"r","x":50,"y":-0.015},{"c":"r","x":55,"y":-0.012},{"c":"r","x":60,"y":-0.02},{"c":"r","x":65,"y":-0.015},{"c":"r","x":75,"y":-0.013},{"c":"r","x":85,"y":-0.01},{"c":"r","x":95,"y":-0.012},{"c":"r","x":105,"y":-0.008},{"c":"r","x":115,"y":-0.01},{"c":"r","x":125,"y":-0.007},{"c":"r","x":130,"y":-0.012},{"c":"r","x":140,"y":-0.008},{"c":"r","x":150,"y":-0.006},{"c":"r","x":160,"y":-0.005},{"c":"r","x":170,"y":-0.004},{"c":"r","x":180,"y":-0.005},{"c":"r","x":190,"y":-0.003},{"c":"r","x":200,"y":-0.004},{"c":"r","x":210,"y":-0.003},{"c":"r","x":220,"y":-0.003}
]
},
"concat":[
{"width":205,"height":209,
 "title":{"text":"A)","orient":"bottom","anchor":"start","frame":"group","dx":-64,"offset":-16,"font":"Liberation Serif","fontSize":20,"fontWeight":"normal","color":"#000"},
 "layer":[
  {"data":{"name":"a"},"mark":{"type":"line","clip":true},
   "encoding":{
    "x":{"field":"x","type":"quantitative","scale":{"domain":[0,220],"nice":false,"zero":false},"axis":{"title":"fMRI series length","values":[0,50,100,150,200]}},
    "y":{"field":"y","type":"quantitative","scale":{"domain":[-1,1],"nice":false},"axis":{"title":"CLI","values":[-1,-0.8,-0.6,-0.4,-0.2,0,0.2,0.4,0.6,0.8,1],"labelExpr":"replace(format(datum.value,'.1f'),'\u2212','-')"}},
    "color":{"field":"c","type":"nominal","scale":{"domain":["k","r","b","m"],"range":["#000000","#ff0000","#0000ff","#ff00ff"]},"legend":null},
    "detail":{"field":"s","type":"nominal"}}},
  {"data":{"values":[{}]},"mark":{"type":"text"},"encoding":{"x":{"datum":110},"y":{"datum":0.77},"text":{"value":"MC dynamic CLI of the resting data"}}}
 ]},
{"width":205,"height":209,
 "title":{"text":"B)","orient":"bottom","anchor":"start","frame":"group","dx":-67,"offset":-16,"font":"Liberation Serif","fontSize":20,"fontWeight":"normal","color":"#000"},
 "layer":[
  {"data":{"name":"b"},"mark":{"type":"line","clip":true},
   "encoding":{
    "x":{"field":"x","type":"quantitative","scale":{"domain":[0,220],"nice":false,"zero":false},"axis":{"title":"fMRI series length","values":[0,50,100,150,200]}},
    "y":{"field":"y","type":"quantitative","scale":{"domain":[-0.2,0.2],"nice":false},"axis":{"title":"1st derivative of CLI","grid":true,"gridDash":[1,3],"gridColor":"#333","values":[-0.2,-0.16,-0.12,-0.08,-0.04,0,0.04,0.08,0.12,0.16,0.2],"labelExpr":"replace(format(datum.value,'.2f'),'\u2212','-')"}},
    "color":{"field":"c","type":"nominal","scale":{"domain":["k","r","b"],"range":["#000000","#ff0000","#0000ff"]},"legend":null},
    "strokeDash":{"field":"c","type":"nominal","scale":{"domain":["k","r","b"],"range":[[1,0],[4,2],[4,2]]},"legend":null}}},
  {"data":{"values":[{}]},"mark":{"type":"text","lineHeight":13},"encoding":{"x":{"datum":112},"y":{"datum":0.157},"text":{"value":["1st derivative of MC dynamic","CLI of the resting data"]}}}
 ]},
{"width":205,"height":209,
 "title":{"text":"C)","orient":"bottom","anchor":"start","frame":"group","dx":-64,"offset":-16,"font":"Liberation Serif","fontSize":20,"fontWeight":"normal","color":"#000"},
 "layer":[
  {"data":{"name":"c"},"mark":{"type":"line","clip":true},
   "encoding":{
    "x":{"field":"x","type":"quantitative","scale":{"domain":[0,160],"nice":false,"zero":false},"axis":{"title":"fMRI series length","values":[0,20,40,60,80,100,120,140,160]}},
    "y":{"field":"y","type":"quantitative","scale":{"domain":[-1,1],"nice":false},"axis":{"title":"CLI","grid":true,"gridDash":[1,3],"gridColor":"#333","values":[-1,-0.8,-0.6,-0.4,-0.2,0,0.2,0.4,0.6,0.8,1],"labelExpr":"replace(format(datum.value,'.1f'),'\u2212','-')"}},
    "color":{"field":"c","type":"nominal","scale":{"domain":["k","r","b","m"],"range":["#000000","#ff0000","#0000ff","#ff00ff"]},"legend":null},
    "detail":{"field":"s","type":"nominal"}}},
  {"data":{"values":[{}]},"mark":{"type":"text"},"encoding":{"x":{"datum":75},"y":{"datum":0.79},"text":{"value":"MC dynamic CLI of the sensorymotor data"}}}
 ]},
{"width":205,"height":209,
 "title":{"text":"D)","orient":"bottom","anchor":"start","frame":"group","dx":-67,"offset":-16,"font":"Liberation Serif","fontSize":20,"fontWeight":"normal","color":"#000"},
 "layer":[
  {"data":{"name":"d"},"mark":{"type":"line","clip":true},
   "encoding":{
    "x":{"field":"x","type":"quantitative","scale":{"domain":[0,160],"nice":false,"zero":false},"axis":{"title":"fMRI series length","values":[0,20,40,60,80,100,120,140,160]}},
    "y":{"field":"y","type":"quantitative","scale":{"domain":[-0.2,0.2],"nice":false},"axis":{"title":"1st derivative of CLI","grid":true,"gridDash":[1,3],"gridColor":"#333","values":[-0.2,-0.16,-0.12,-0.08,-0.04,0,0.04,0.08,0.12,0.16,0.2],"labelExpr":"replace(format(datum.value,'.2f'),'\u2212','-')"}},
    "color":{"field":"c","type":"nominal","scale":{"domain":["k","r","b"],"range":["#000000","#ff0000","#0000ff"]},"legend":null},
    "strokeDash":{"field":"c","type":"nominal","scale":{"domain":["k","r","b"],"range":[[1,0],[4,2],[4,2]]},"legend":null}}},
  {"data":{"values":[{}]},"mark":{"type":"text","lineHeight":13},"encoding":{"x":{"datum":87},"y":{"datum":0.151},"text":{"value":["1st derivative of MC dynamic","CLI of the sensorymotor data"]}}}
 ]},
{"width":205,"height":209,
 "title":{"text":"E)","orient":"bottom","anchor":"start","frame":"group","dx":-64,"offset":-16,"font":"Liberation Serif","fontSize":20,"fontWeight":"normal","color":"#000"},
 "layer":[
  {"data":{"name":"e"},"mark":{"type":"line","clip":true},
   "encoding":{
    "x":{"field":"x","type":"quantitative","scale":{"domain":[0,220],"nice":false,"zero":false},"axis":{"title":"fMRI series length","values":[0,50,100,150,200]}},
    "y":{"field":"y","type":"quantitative","scale":{"domain":[-1,1],"nice":false},"axis":{"title":"CLI","values":[-1,-0.8,-0.6,-0.4,-0.2,0,0.2,0.4,0.6,0.8,1],"labelExpr":"replace(format(datum.value,'.1f'),'\u2212','-')"}},
    "color":{"field":"c","type":"nominal","scale":{"domain":["k","r","b","m"],"range":["#000000","#ff0000","#0000ff","#ff00ff"]},"legend":null},
    "detail":{"field":"s","type":"nominal"}}},
  {"data":{"values":[{}]},"mark":{"type":"text"},"encoding":{"x":{"datum":113},"y":{"datum":0.79},"text":{"value":"HPF dynamic CLI of the resting data"}}}
 ]},
{"width":205,"height":209,
 "title":{"text":"F)","orient":"bottom","anchor":"start","frame":"group","dx":-67,"offset":-16,"font":"Liberation Serif","fontSize":20,"fontWeight":"normal","color":"#000"},
 "layer":[
  {"data":{"name":"f"},"mark":{"type":"line","clip":true},
   "encoding":{
    "x":{"field":"x","type":"quantitative","scale":{"domain":[0,220],"nice":false,"zero":false},"axis":{"title":"fMRI series length","values":[0,50,100,150,200]}},
    "y":{"field":"y","type":"quantitative","scale":{"domain":[-0.2,0.2],"nice":false},"axis":{"title":"1st derivative of CLI","grid":true,"gridDash":[1,3],"gridColor":"#333","values":[-0.2,-0.16,-0.12,-0.08,-0.04,0,0.04,0.08,0.12,0.16,0.2],"labelExpr":"replace(format(datum.value,'.2f'),'\u2212','-')"}},
    "color":{"field":"c","type":"nominal","scale":{"domain":["k","r","b"],"range":["#000000","#ff0000","#0000ff"]},"legend":null},
    "strokeDash":{"field":"c","type":"nominal","scale":{"domain":["k","r","b"],"range":[[1,0],[4,2],[4,2]]},"legend":null}}},
  {"data":{"values":[{}]},"mark":{"type":"text","lineHeight":13},"encoding":{"x":{"datum":112},"y":{"datum":0.153},"text":{"value":["1st derivative of HPF dynamic","CLI of the resting data"]}}}
 ]}
],
"config":{
 "view":{"stroke":"#000","strokeWidth":1},
 "axis":{"labelFont":"Liberation Sans","labelFontSize":9,"labelColor":"#000","titleFont":"Liberation Sans","titleFontSize":11,"titleFontWeight":"normal","titleColor":"#000","ticks":false,"domain":false,"grid":false,"labelPadding":3,"labelFlush":false,"labelOverlap":false,"tickCount":30},
 "axisY":{"titlePadding":8},
 "axisX":{"titlePadding":4},
 "line":{"strokeWidth":0.9},
 "text":{"font":"Liberation Sans","fontSize":10,"color":"#000"}
}
}
